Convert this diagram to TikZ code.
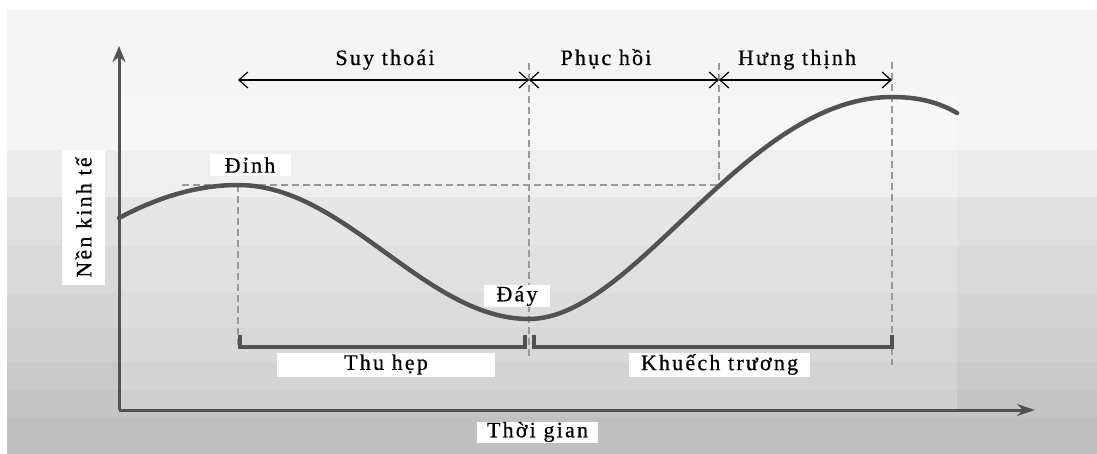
\documentclass[tikz,border=0pt]{standalone}
\usepackage{fontspec}
\usepackage{tikz}
\usetikzlibrary{arrows.meta}
\newfontfamily\vnfont[LetterSpace=10,FakeBold=0.6]{Liberation Serif}
\tikzstyle{axis}=[line width=3pt, draw=black!68, line cap=butt]
\tikzstyle{curve}=[line width=4.5pt, draw=black!68, line cap=round]
\tikzstyle{guide}=[line width=2.5pt, draw=black!40, dash pattern=on 7pt off 4pt]
\tikzstyle{span}=[line width=1.2pt, {Straight Barb[length=9pt,width=16pt]}-{Straight Barb[length=9pt,width=16pt]}]
\tikzstyle{bracket}=[line width=4pt, draw=black!68]
\tikzstyle{lbl}=[font=\vnfont\fontsize{22}{26}\selectfont, inner sep=0pt]
\tikzstyle{lblbox}=[lbl, fill=white, minimum height=22pt]

\begin{document}
\begin{tikzpicture}[x=1pt,y=-1pt]
    \useasboundingbox (0,0) rectangle (1097,454);
    % background bands
    \fill[white] (0,0) rectangle (1097,454);
    \foreach \ya/\yb/\g in {10/150/4, 150/197/8, 197/245/12, 245/293/15, 293/328/17, 328/362/19, 362/390/21, 390/417/23, 417/454/25}
        \fill[black!\g] (7,\ya) rectangle (1097,\yb);
    \fill[white, opacity=.2] (119,97) rectangle (957,410);

    % axes
    \coordinate (O) at (119,410);
    \coordinate (ytip) at (119,46);
    \coordinate (xtip) at (1035,410);
    \draw[axis, -{Stealth[length=16pt,width=13pt,fill=black!8]}] (O) -- (ytip);
    \draw[axis, -{Stealth[length=18pt,width=12pt,fill=black!8]}] (O) -- (xtip);

    % key points of the cycle
    \coordinate (start) at (119,218);
    \coordinate (pk1) at (238,185);
    \coordinate (tr) at (529,319);
    \coordinate (mid) at (719,185);
    \coordinate (pk2) at (892,97);
    \coordinate (end) at (957,113);

    % guide lines
    \draw[guide] (182,185) -- (mid);
    \draw[guide] (pk1) -- (238,345);
    \draw[guide] (529,63) -- (529,357);
    \draw[guide] (719,63) -- (mid);
    \draw[guide] (892,62) -- (892,365);

    % the cycle
    \draw[curve] (start) .. controls (160,196) and (200,185) .. (pk1)
        .. controls (345,185) and (425,319) .. (tr)
        .. controls (635,319) and (745,97) .. (pk2)
        .. controls (920,97) and (940,103) .. (end);

    % phases on top
    \coordinate (s1) at (238,80);
    \coordinate (s2) at (529,80);
    \coordinate (s3) at (719,80);
    \coordinate (s4) at (892,80);
    \draw[span] (s1) -- (s2);
    \draw[span] (s2) -- (s3);
    \draw[span] (s3) -- (s4);
    \node[lbl, anchor=base] (suythoai) at (385,65) {Suy thoái};
    \node[lbl, anchor=base] (phuchoi) at (606,65) {Phục hồi};
    \node[lbl, anchor=base] (hungthinh) at (797,65) {Hưng thịnh};

    % brackets below
    \draw[bracket] (240,335) -- (240,347) -- (525,347) -- (525,335);
    \draw[bracket] (534,335) -- (534,347) -- (892,347) -- (892,335);

    % labels
    \node[lblbox, minimum width=81pt] (dinh) at (250,165) {Đỉnh};
    \node[lblbox, minimum width=66pt] (day) at (517,296) {Đáy};
    \node[lblbox, minimum width=218pt, minimum height=24pt] (thuhep) at (386,364.5) {Thu hẹp};
    \node[lblbox, minimum width=181pt, minimum height=24pt] (khuechtruong) at (719.5,364.5) {Khuếch trương};
    \node[lblbox, minimum width=121pt, minimum height=21pt] (thoigian) at (537.5,432) {Thời gian};
    \node[lblbox, rotate=90, minimum width=135pt, minimum height=43pt] (nenkinhte) at (83.5,217.5) {Nền kinh tế};
\end{tikzpicture}
\end{document}
